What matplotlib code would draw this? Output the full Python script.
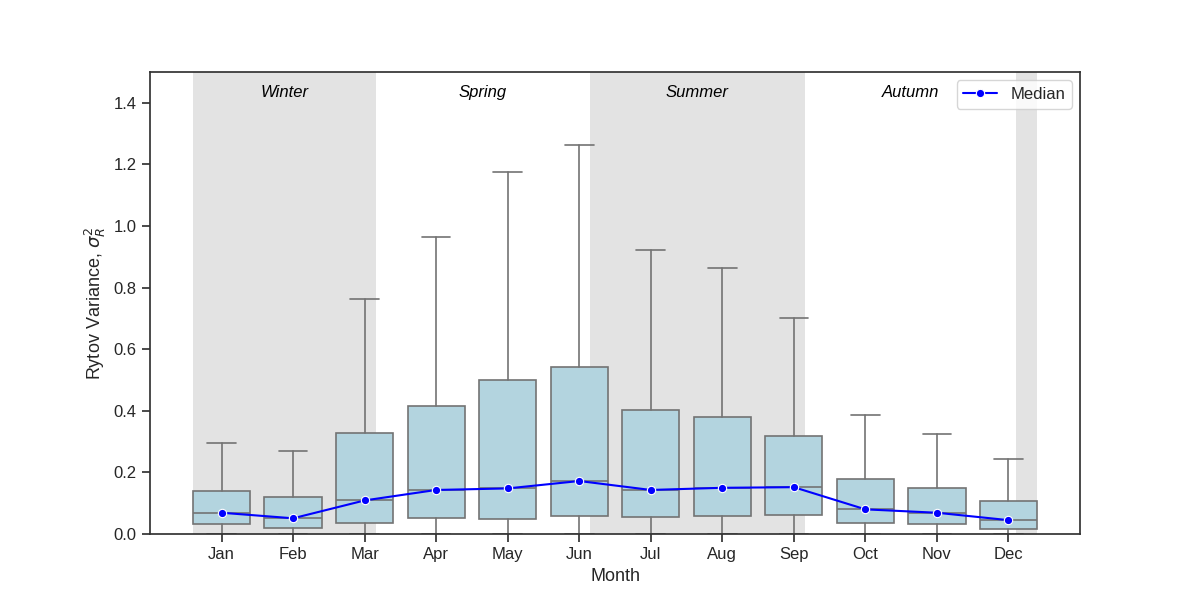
import matplotlib
matplotlib.use('Agg')
import matplotlib.pyplot as plt
import seaborn as sns

# monthly box statistics
months = ['Jan', 'Feb', 'Mar', 'Apr', 'May', 'Jun', 'Jul', 'Aug', 'Sep', 'Oct', 'Nov', 'Dec']
whisker_lo = [0.0, 0.0, 0.0, 0.0, 0.0, 0.0, 0.0, 0.0, 0.0, 0.0, 0.0, 0.0]
q1 = [0.032, 0.018, 0.035, 0.051, 0.048, 0.057, 0.054, 0.057, 0.061, 0.035, 0.031, 0.015]
median = [0.069, 0.051, 0.109, 0.143, 0.148, 0.172, 0.143, 0.150, 0.152, 0.080, 0.069, 0.045]
q3 = [0.140, 0.119, 0.327, 0.416, 0.500, 0.542, 0.403, 0.379, 0.317, 0.178, 0.148, 0.106]
whisker_hi = [0.294, 0.268, 0.763, 0.964, 1.175, 1.262, 0.922, 0.864, 0.701, 0.386, 0.325, 0.242]

# seasons (x ranges in month-position units)
seasons = ['Winter', 'Spring', 'Summer', 'Autumn']
season_edges = [-0.4, 2.16, 5.15, 8.15, 11.1]
shaded = [(-0.4, 2.16), (5.15, 8.15), (11.1, 11.4)]

sns.set_style('ticks')
plt.rcParams['font.family'] = ['Liberation Sans', 'DejaVu Sans']

fig, ax = plt.subplots(figsize=(12, 6), dpi=100)

for a, b in shaded:
    ax.axvspan(a, b, color='#e3e3e3', zorder=0, lw=0)

stats = []
for i, m in enumerate(months):
    stats.append({'label': m, 'whislo': whisker_lo[i], 'q1': q1[i], 'med': median[i],
                  'q3': q3[i], 'whishi': whisker_hi[i]})

edge = '#737373'
ax.bxp(stats, positions=range(len(months)), widths=0.8, showfliers=False,
       patch_artist=True,
       boxprops=dict(facecolor='#b3d4df', edgecolor=edge, linewidth=1.2),
       medianprops=dict(color=edge, linewidth=1.2),
       whiskerprops=dict(color=edge, linewidth=1.2),
       capprops=dict(color=edge, linewidth=1.2),
       capwidths=0.4, zorder=2)

ax.plot(range(len(months)), median, color='blue', marker='o', markersize=6,
        markeredgecolor='white', markeredgewidth=0.8, linewidth=1.5, label='Median', zorder=3)

for k, s in enumerate(seasons):
    ax.text((season_edges[k] + season_edges[k + 1]) / 2, 1.435, s, ha='center', va='center',
            fontsize=12, style='italic', color='black')

ax.set_xlim(-1, 12)
ax.set_ylim(0, 1.5)
ax.set_xticks(range(len(months)))
ax.set_xticklabels(months)
ax.tick_params(axis='both', which='major', direction='out', length=6, width=1.25,
               color='#333333', labelsize=12, left=True, bottom=True)
for sp in ax.spines.values():
    sp.set_color('#333333')
    sp.set_linewidth(1.25)
    sp.set_zorder(4)
ax.set_xlabel('Month', fontsize=13)
ax.set_ylabel(r'Rytov Variance, $\sigma^2_R$', fontsize=13)
ax.legend(loc='upper right', fontsize=12)

plt.savefig('out.png', dpi=100)
